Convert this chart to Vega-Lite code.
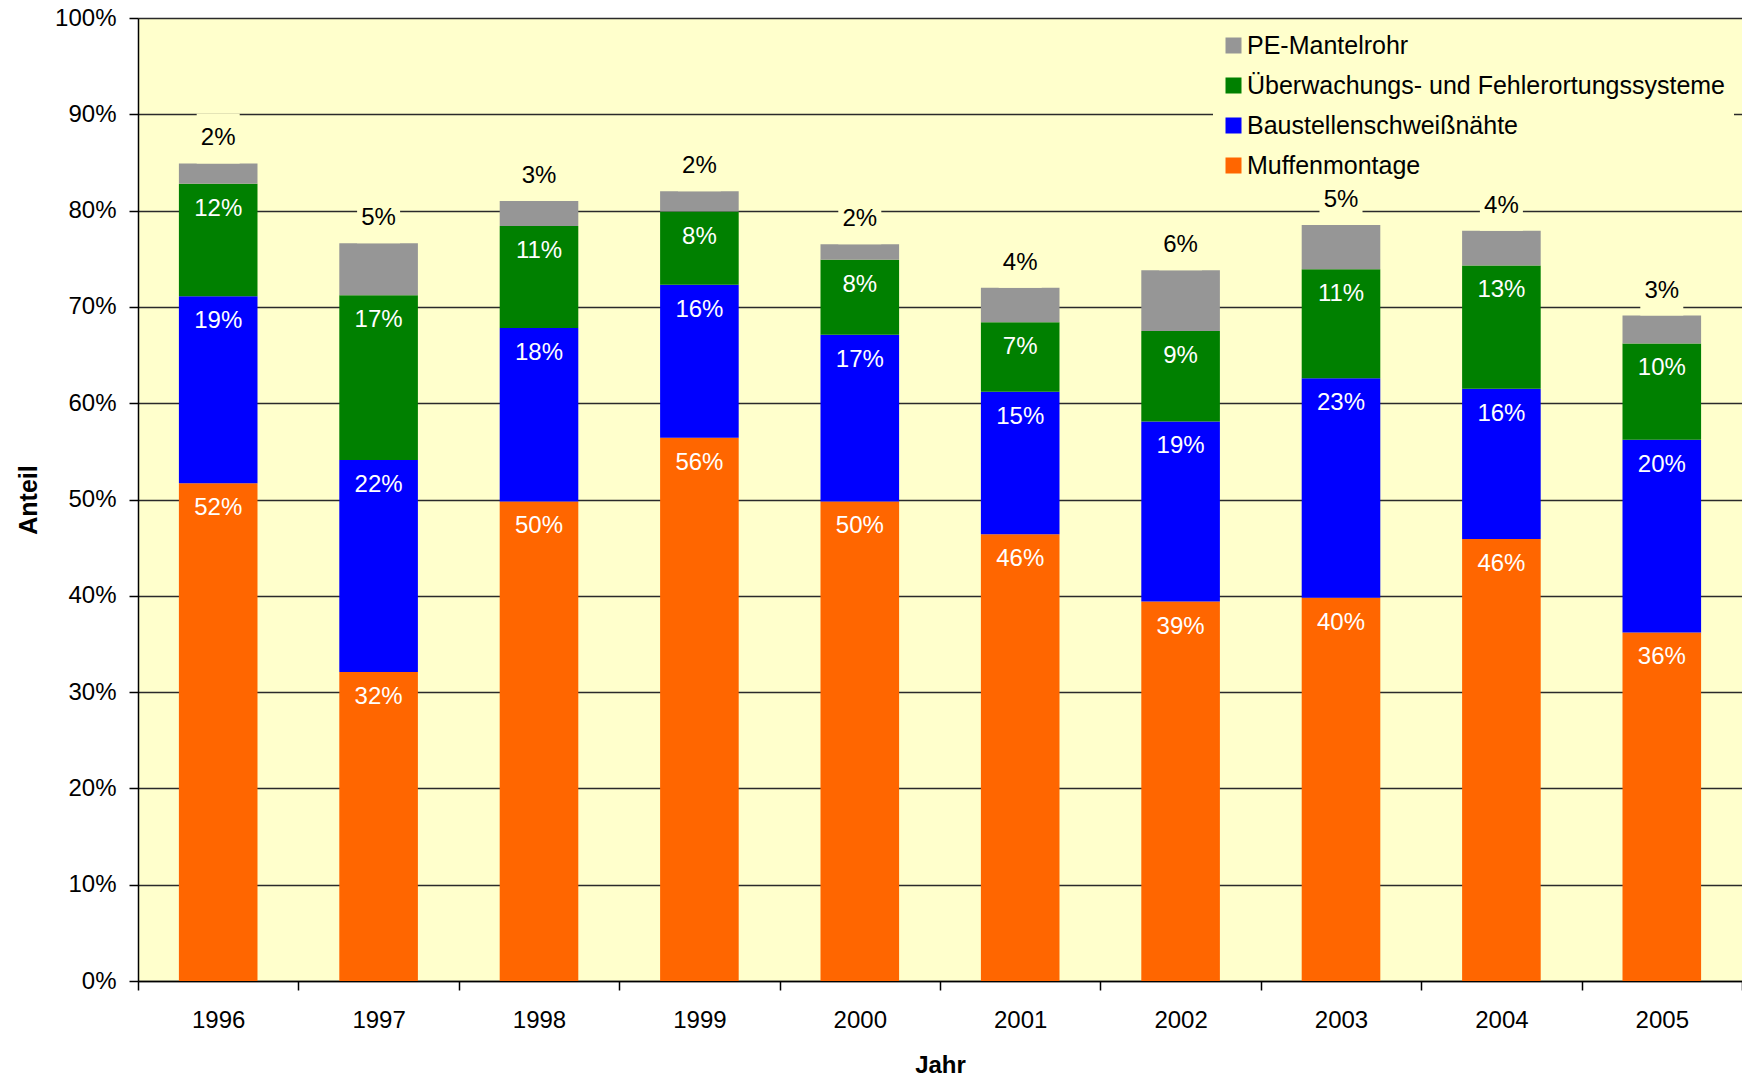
{
  "$schema": "https://vega.github.io/schema/vega-lite/v6.json",
  "width": 1604,
  "height": 963,
  "autosize": {"type": "none"},
  "padding": {"left": 138, "top": 18, "right": 0, "bottom": 96},
  "background": "#ffffff",
  "config": {
    "view": {"fill": "#FFFFCC", "stroke": null},
    "font": "Liberation Sans",
    "legend": {
      "orient": "none", "legendX": 1075, "legendY": 7, "fillColor": "#FFFFCC", "padding": 8,
      "symbolType": "square", "symbolSize": 256, "symbolStrokeWidth": 0,
      "labelFontSize": 25, "labelLimit": 900, "rowPadding": 14, "labelOffset": 1, "labelColor": "#000"
    }
  },
  "data": {"values": [
    {"year": "1996", "series": "Muffenmontage", "value": 0.517},
    {"year": "1996", "series": "Baustellenschweißnähte", "value": 0.194},
    {"year": "1996", "series": "Überwachungs- und Fehlerortungssysteme", "value": 0.117},
    {"year": "1996", "series": "PE-Mantelrohr", "value": 0.021},
    {"year": "1997", "series": "Muffenmontage", "value": 0.321},
    {"year": "1997", "series": "Baustellenschweißnähte", "value": 0.220},
    {"year": "1997", "series": "Überwachungs- und Fehlerortungssysteme", "value": 0.171},
    {"year": "1997", "series": "PE-Mantelrohr", "value": 0.054},
    {"year": "1998", "series": "Muffenmontage", "value": 0.498},
    {"year": "1998", "series": "Baustellenschweißnähte", "value": 0.180},
    {"year": "1998", "series": "Überwachungs- und Fehlerortungssysteme", "value": 0.106},
    {"year": "1998", "series": "PE-Mantelrohr", "value": 0.026},
    {"year": "1999", "series": "Muffenmontage", "value": 0.564},
    {"year": "1999", "series": "Baustellenschweißnähte", "value": 0.159},
    {"year": "1999", "series": "Überwachungs- und Fehlerortungssysteme", "value": 0.076},
    {"year": "1999", "series": "PE-Mantelrohr", "value": 0.021},
    {"year": "2000", "series": "Muffenmontage", "value": 0.498},
    {"year": "2000", "series": "Baustellenschweißnähte", "value": 0.173},
    {"year": "2000", "series": "Überwachungs- und Fehlerortungssysteme", "value": 0.078},
    {"year": "2000", "series": "PE-Mantelrohr", "value": 0.016},
    {"year": "2001", "series": "Muffenmontage", "value": 0.464},
    {"year": "2001", "series": "Baustellenschweißnähte", "value": 0.148},
    {"year": "2001", "series": "Überwachungs- und Fehlerortungssysteme", "value": 0.072},
    {"year": "2001", "series": "PE-Mantelrohr", "value": 0.036},
    {"year": "2002", "series": "Muffenmontage", "value": 0.394},
    {"year": "2002", "series": "Baustellenschweißnähte", "value": 0.187},
    {"year": "2002", "series": "Überwachungs- und Fehlerortungssysteme", "value": 0.094},
    {"year": "2002", "series": "PE-Mantelrohr", "value": 0.063},
    {"year": "2003", "series": "Muffenmontage", "value": 0.398},
    {"year": "2003", "series": "Baustellenschweißnähte", "value": 0.228},
    {"year": "2003", "series": "Überwachungs- und Fehlerortungssysteme", "value": 0.113},
    {"year": "2003", "series": "PE-Mantelrohr", "value": 0.046},
    {"year": "2004", "series": "Muffenmontage", "value": 0.459},
    {"year": "2004", "series": "Baustellenschweißnähte", "value": 0.156},
    {"year": "2004", "series": "Überwachungs- und Fehlerortungssysteme", "value": 0.128},
    {"year": "2004", "series": "PE-Mantelrohr", "value": 0.036},
    {"year": "2005", "series": "Muffenmontage", "value": 0.362},
    {"year": "2005", "series": "Baustellenschweißnähte", "value": 0.200},
    {"year": "2005", "series": "Überwachungs- und Fehlerortungssysteme", "value": 0.100},
    {"year": "2005", "series": "PE-Mantelrohr", "value": 0.029}
  ]},
  "transform": [
    {"calculate": "indexof(['Muffenmontage','Baustellenschweißnähte','Überwachungs- und Fehlerortungssysteme','PE-Mantelrohr'], datum.series)", "as": "ord"},
    {"stack": "value", "groupby": ["year"], "sort": [{"field": "ord", "order": "ascending"}], "as": ["v0", "v1"]}
  ],
  "encoding": {
    "x": {
      "field": "year", "type": "ordinal",
      "scale": {"paddingInner": 0, "paddingOuter": 0},
      "axis": {
        "title": "Jahr", "labelAngle": 0, "tickBand": "extent", "grid": false,
        "domainColor": "#000", "domainWidth": 1.5, "tickColor": "#000", "tickSize": 9, "tickWidth": 1.5,
        "labelFontSize": 24, "labelColor": "#000", "labelPadding": 18,
        "titleFontSize": 24, "titleFontWeight": "bold", "titleColor": "#000", "titlePadding": 21
      }
    }
  },
  "layer": [
    {
      "mark": {"type": "bar", "width": {"band": 0.49}},
      "encoding": {
        "y": {
          "field": "v1", "type": "quantitative", "scale": {"domain": [0, 1]},
          "axis": {
            "values": [0, 0.1, 0.2, 0.3, 0.4, 0.5, 0.6, 0.7, 0.8, 0.9, 1],
            "format": ".0%", "title": "Anteil", "grid": true, "gridColor": "#2a2a2a", "gridWidth": 1.5,
            "domainColor": "#000", "domainWidth": 1.5, "tickColor": "#000", "tickSize": 9, "tickWidth": 1.5,
            "labelFontSize": 24, "labelColor": "#000", "labelPadding": 13,
            "titleFontSize": 25, "titleFontWeight": "bold", "titleColor": "#000", "titlePadding": 13
          }
        },
        "y2": {"field": "v0"},
        "color": {
          "field": "series", "type": "nominal",
          "scale": {
            "domain": ["PE-Mantelrohr", "Überwachungs- und Fehlerortungssysteme", "Baustellenschweißnähte", "Muffenmontage"],
            "range": ["#969696", "#008000", "#0000FF", "#FF6600"]
          },
          "legend": {"title": null}
        }
      }
    },
    {
      "transform": [{"filter": "datum.series === 'PE-Mantelrohr'"}],
      "mark": {"type": "point", "shape": "M-0.86,-1H0.86V1H-0.86Z", "size": 2500, "filled": true, "color": "#FFFFCC", "opacity": 1, "strokeWidth": 0, "yOffset": -25},
      "encoding": {"y": {"field": "v1", "type": "quantitative"}}
    },
    {
      "transform": [{"filter": "datum.series === 'PE-Mantelrohr'"}],
      "mark": {"type": "text", "fontSize": 24, "color": "#000", "baseline": "middle", "yOffset": -25},
      "encoding": {"y": {"field": "v1", "type": "quantitative"}, "text": {"field": "value", "type": "quantitative", "format": ".0%"}}
    },
    {
      "transform": [{"filter": "datum.series !== 'PE-Mantelrohr'"}],
      "mark": {"type": "text", "fontSize": 24, "color": "#ffffff", "baseline": "middle", "yOffset": 25},
      "encoding": {"y": {"field": "v1", "type": "quantitative"}, "text": {"field": "value", "type": "quantitative", "format": ".0%"}}
    }
  ]
}
